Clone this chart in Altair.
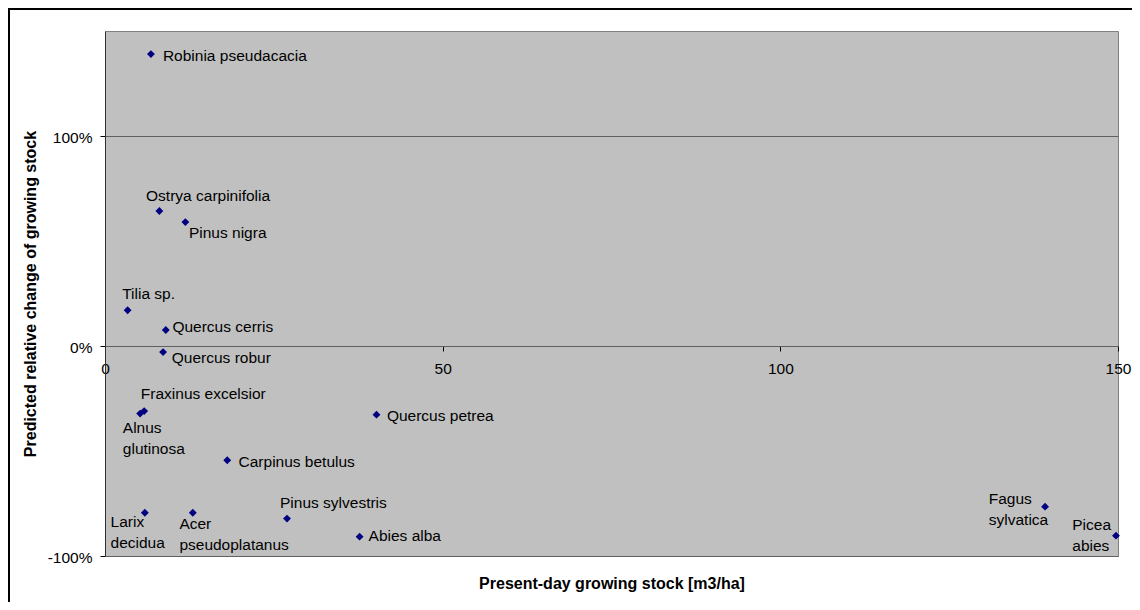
import altair as alt
import pandas as pd

# ---- data ----
species = [
    "Robinia pseudacacia", "Ostrya carpinifolia", "Pinus nigra", "Tilia sp.",
    "Quercus cerris", "Quercus robur", "Fraxinus excelsior", "Alnus glutinosa",
    "Quercus petrea", "Carpinus betulus", "Larix decidua", "Acer pseudoplatanus",
    "Pinus sylvestris", "Abies alba", "Fagus sylvatica", "Picea abies",
]
growing_stock = [6.8, 8.05, 11.9, 3.35, 9.0, 8.6, 5.8, 5.2,
                 40.2, 18.1, 5.9, 13.0, 26.95, 37.7, 139.2, 149.7]
relative_change = [1.39, 0.643, 0.59, 0.17, 0.076, -0.029, -0.31, -0.322,
                   -0.327, -0.544, -0.794, -0.794, -0.822, -0.908, -0.765, -0.903]

x_ticks = [0, 50, 100, 150]
y_ticks = [-1, 0, 1]

df = pd.DataFrame({"species": species, "stock": growing_stock, "change": relative_change})

# ---- label placement (style, not data): dx, dy, two-line ----
LABEL_LAYOUT = {
    "Robinia pseudacacia": (12, 1.5, False),
    "Ostrya carpinifolia": (-13.3, -14.6, False),
    "Pinus nigra": (3.6, 10.7, False),
    "Tilia sp.": (-5.4, -16.6, False),
    "Quercus cerris": (6.6, -3.5, False),
    "Quercus robur": (8.7, 6.4, False),
    "Fraxinus excelsior": (-3.3, -17.3, False),
    "Alnus glutinosa": (-17.3, 7.8, True),
    "Quercus petrea": (10.4, 1.3, False),
    "Carpinus betulus": (11.3, 1.4, False),
    "Larix decidua": (-34.3, 2.6, True),
    "Acer pseudoplatanus": (-13.4, 4.4, True),
    "Pinus sylvestris": (-7, -15.5, False),
    "Abies alba": (9, -1.1, False),
    "Fagus sylvatica": (-56.3, -14.6, True),
    "Picea abies": (-43.7, -17.6, True),
}

W, H = 1013, 525
FONT = "Liberation Sans"

x_enc = alt.X(
    "stock:Q",
    scale=alt.Scale(domain=[0, 150], nice=False, zero=False),
    axis=alt.Axis(
        values=x_ticks, offset=-210, grid=False,
        domainColor="#606060", tickColor="#000000", tickSize=5,
        labelFontSize=15.5, labelPadding=10, labelColor="#000000", labelFlush=False,
        title="Present-day growing stock [m3/ha]", titleFontSize=16, titleFontWeight="bold",
        titleColor="#000000", titleX=W / 2, titleY=237.5, titleAlign="center", titleBaseline="middle",
    ),
)
y_enc = alt.Y(
    "change:Q",
    scale=alt.Scale(domain=[-1, 1.5], nice=False, zero=False),
    axis=alt.Axis(
        values=y_ticks, labelExpr="round(datum.value*100) + '%'",
        grid=True, gridColor="#606060", gridWidth=1,
        domainColor="#303030", tickColor="#000000", tickSize=5,
        labelFontSize=15.5, labelPadding=8, labelOffset=1.5, labelColor="#000000",
        title="Predicted relative change of growing stock", titleFontSize=16, titleFontWeight="bold",
        titleColor="#000000", titleAngle=-90, titleX=-75, titleY=H / 2,
        titleAlign="center", titleBaseline="middle",
    ),
)

base = alt.Chart(df)

points = base.mark_point(shape="diamond", filled=True, size=62, color="#000080", opacity=1).encode(
    x=x_enc, y=y_enc
)

layers = [points]
for name, (dx, dy, two_line) in LABEL_LAYOUT.items():
    t = base.transform_filter(alt.datum.species == name)
    if two_line:
        t = t.transform_calculate(lbl="replace(datum.species, ' ', '\\n')").mark_text(
            align="left", baseline="top", dx=dx, dy=dy, fontSize=15.5, font=FONT,
            color="#000000", lineBreak="\n", lineHeight=20.7,
        )
    else:
        t = t.transform_calculate(lbl="datum.species").mark_text(
            align="left", baseline="middle", dx=dx, dy=dy, fontSize=15.5, font=FONT,
            color="#000000",
        )
    layers.append(t.encode(x="stock:Q", y="change:Q", text="lbl:N"))

# outer chart frame (only the top and left sides are inside the picture)
frame_top = alt.Chart(df).mark_rule(stroke="#000000", strokeWidth=2).encode(
    x=alt.value(-97), x2=alt.value(W + 14), y=alt.value(-22.5)
)
frame_left = alt.Chart(df).mark_rule(stroke="#000000", strokeWidth=2).encode(
    x=alt.value(-96.5), y=alt.value(-23.5), y2=alt.value(H + 46)
)
layers += [frame_top, frame_left]

chart = alt.layer(*layers).properties(
    width=W, height=H,
    padding={"left": 97, "top": 23, "right": 14, "bottom": 46},
    autosize=alt.AutoSizeParams(type="none"),
    background="#ffffff",
).configure(font=FONT).configure_view(
    fill="#C0C0C0", stroke="#808080", strokeWidth=1
)

chart.save("out.html", embed_options={"renderer": "svg", "actions": False})
